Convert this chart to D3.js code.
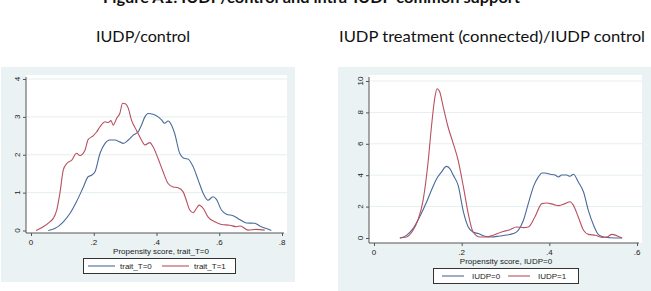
<!DOCTYPE html>
<html>
<head>
<meta charset="utf-8">
<script src="https://cdn.jsdelivr.net/npm/d3@7"></script>
<style>
  html, body { margin: 0; padding: 0; background: #fff; }
  svg { display: block; }
  .tick-lbl { font-family: "Liberation Sans", Arial, sans-serif; font-size: 8px; fill: #222; }
  .head { font-family: Lato, "Open Sans", sans-serif; fill: #111; }
</style>
</head>
<body>
<div id="chart"></div>
<script>
// ---- data ----
// left panel: propensity score densities, trait_T
const leftT0 = [
  [0.055,0],[0.076,0.05],[0.103,0.23],[0.124,0.45],[0.145,0.76],[0.167,1.15],[0.182,1.42],
  [0.193,1.46],[0.204,1.55],[0.22,2.04],[0.236,2.3],[0.251,2.39],[0.267,2.39],[0.283,2.34],
  [0.294,2.3],[0.31,2.39],[0.326,2.52],[0.342,2.61],[0.352,2.78],[0.363,3.0],[0.373,3.09],
  [0.389,3.07],[0.405,3.0],[0.416,2.92],[0.426,2.83],[0.437,2.89],[0.448,2.78],[0.458,2.56],
  [0.474,2.04],[0.49,1.9],[0.5,1.89],[0.517,1.68],[0.533,1.33],[0.549,0.98],[0.564,0.8],
  [0.58,0.89],[0.591,0.82],[0.607,0.54],[0.623,0.43],[0.644,0.39],[0.665,0.29],[0.686,0.2],
  [0.713,0.19],[0.729,0.12],[0.75,0.05],[0.766,0]
];
const leftT1 = [
  [0.016,0],[0.039,0.1],[0.06,0.23],[0.071,0.32],[0.082,0.54],[0.092,0.98],[0.103,1.6],
  [0.114,1.77],[0.13,1.86],[0.145,2.04],[0.156,1.98],[0.172,2.12],[0.182,2.4],[0.198,2.5],
  [0.209,2.6],[0.22,2.74],[0.236,2.87],[0.246,2.85],[0.255,2.9],[0.262,2.78],[0.273,2.96],
  [0.283,3.09],[0.292,3.36],[0.302,3.34],[0.31,3.23],[0.32,2.92],[0.336,2.65],[0.352,2.39],
  [0.363,2.26],[0.379,2.32],[0.389,2.21],[0.405,1.9],[0.421,1.55],[0.437,1.24],[0.453,1.15],
  [0.469,1.13],[0.485,1.02],[0.495,0.8],[0.506,0.54],[0.517,0.47],[0.527,0.58],[0.536,0.67],
  [0.549,0.58],[0.564,0.36],[0.586,0.23],[0.607,0.16],[0.633,0.14],[0.655,0.1],[0.667,0.12],
  [0.692,0.01],[0.718,0.03],[0.745,0.01]
];
// right panel: IUDP
const rightI0 = [
  [0.059,0],[0.074,0.17],[0.089,0.6],[0.104,1.34],[0.12,2.29],[0.131,3.04],[0.143,3.78],
  [0.154,4.2],[0.165,4.56],[0.173,4.42],[0.181,3.99],[0.192,3.35],[0.204,1.66],[0.215,0.7],
  [0.226,0.38],[0.238,0.28],[0.253,0.11],[0.268,0.06],[0.287,0.13],[0.303,0.19],[0.318,0.28],
  [0.329,0.49],[0.341,1.13],[0.352,2.19],[0.364,3.29],[0.375,3.89],[0.383,4.14],[0.39,4.14],
  [0.402,4.06],[0.413,4.01],[0.421,3.89],[0.428,4.01],[0.44,4.01],[0.447,3.93],[0.455,4.06],
  [0.466,3.57],[0.478,2.93],[0.489,1.76],[0.501,0.81],[0.512,0.21],[0.524,0.06],[0.539,0.02],
  [0.558,0],[0.566,0]
];
const rightI1 = [
  [0.059,0],[0.074,0.06],[0.089,0.49],[0.1,1.13],[0.112,2.4],[0.123,4.73],[0.131,7.07],
  [0.139,8.98],[0.144,9.51],[0.15,9.3],[0.158,8.34],[0.169,7.07],[0.181,6.0],[0.192,4.95],
  [0.204,3.25],[0.215,1.55],[0.226,0.38],[0.242,0.06],[0.257,0.06],[0.272,0.17],[0.291,0.38],
  [0.31,0.53],[0.325,0.7],[0.341,0.66],[0.352,0.7],[0.367,1.34],[0.383,2.19],[0.394,2.23],
  [0.409,2.14],[0.421,2.06],[0.436,2.19],[0.447,2.31],[0.455,2.08],[0.466,1.34],[0.478,0.49],
  [0.489,0.23],[0.505,0.17],[0.52,0.04],[0.531,0.06],[0.543,0.23],[0.554,0.15],[0.566,0]
];

const leftXTicks = [0, 0.2, 0.4, 0.6, 0.8];
const leftYTicks = [0, 1, 2, 3, 4];
const rightXTicks = [0, 0.2, 0.4, 0.6];
const rightYTicks = [0, 2, 4, 6, 8, 10];

const leftLegend = ["trait_T=0", "trait_T=1"];
const rightLegend = ["IUDP=0", "IUDP=1"];

const figTitle = "Figure A1: IUDP/control and intra-IUDP common support";
const leftHead = "IUDP/control";
const rightHead = "IUDP treatment (connected)/IUDP control";

// ---- style ----
const W = 651, H = 291;
const BLUE = "#4a6a99", RED = "#b9505f";
const PANEL_BG = "#eaf2f3", GRID = "#e6eef0", AXIS = "#555";

const fmt = d => d === 0 ? "0" : String(d).replace(/^0\./, ".");

const svg = d3.select("#chart").append("svg")
  .attr("width", W).attr("height", H);

// headings
svg.append("text").attr("class", "head")
  .attr("x", 103).attr("y", 3)
  .attr("font-size", 16).attr("font-weight", 700)
  .attr("textLength", 417).attr("lengthAdjust", "spacingAndGlyphs")
  .text(figTitle);
svg.append("text").attr("class", "head")
  .attr("x", 96).attr("y", 42).attr("font-size", 16)
  .attr("textLength", 94).attr("lengthAdjust", "spacingAndGlyphs")
  .text(leftHead);
svg.append("text").attr("class", "head")
  .attr("x", 339).attr("y", 42).attr("font-size", 16)
  .attr("textLength", 306).attr("lengthAdjust", "spacingAndGlyphs")
  .text(rightHead);

function panel(cfg) {
  const g = svg.append("g");
  // graph region
  g.append("rect")
    .attr("x", cfg.outer[0]).attr("y", cfg.outer[1])
    .attr("width", cfg.outer[2] - cfg.outer[0]).attr("height", cfg.outer[3] - cfg.outer[1])
    .attr("fill", PANEL_BG);
  // plot region
  g.append("rect")
    .attr("x", cfg.plot[0]).attr("y", cfg.plot[1])
    .attr("width", cfg.plot[2] - cfg.plot[0]).attr("height", cfg.plot[3] - cfg.plot[1])
    .attr("fill", "#fff");

  const x = d3.scaleLinear().domain(cfg.xDomain).range(cfg.xRange);
  const y = d3.scaleLinear().domain(cfg.yDomain).range(cfg.yRange);

  // gridlines
  g.selectAll(null).data(cfg.yTicks.slice(1)).join("line")
    .attr("x1", cfg.plot[0] + 1).attr("x2", cfg.plot[2])
    .attr("y1", d => y(d)).attr("y2", d => y(d))
    .attr("stroke", GRID).attr("stroke-width", 1);

  // y axis
  const yAx = g.append("g").attr("transform", `translate(${cfg.plot[0]},0)`)
    .call(d3.axisLeft(y).tickValues(cfg.yTicks).tickSize(3).tickFormat(""));
  yAx.select(".domain").attr("d", `M0,${cfg.plot[1] + 2}V${cfg.plot[3]}`);
  yAx.selectAll("path, line").attr("stroke", AXIS);
  g.selectAll(null).data(cfg.yTicks).join("text")
    .attr("class", "tick-lbl")
    .attr("text-anchor", "middle")
    .attr("transform", d => `translate(${cfg.plot[0] - 6},${y(d)}) rotate(-90)`)
    .text(fmt);

  // x axis
  const xAx = g.append("g").attr("transform", `translate(0,${cfg.plot[3]})`)
    .call(d3.axisBottom(x).tickValues(cfg.xTicks).tickSize(3).tickFormat(""));
  xAx.select(".domain").attr("d", `M${cfg.plot[0]},0H${cfg.xRange[1] + 2}`);
  xAx.selectAll("path, line").attr("stroke", AXIS);
  g.selectAll(null).data(cfg.xTicks).join("text")
    .attr("class", "tick-lbl")
    .attr("text-anchor", "middle")
    .attr("x", d => x(d)).attr("y", cfg.plot[3] + 12)
    .text(fmt);

  g.append("text").attr("class", "tick-lbl")
    .attr("text-anchor", "middle")
    .attr("x", cfg.xLabelX).attr("y", cfg.plot[3] + 21)
    .text(cfg.xLabel);

  // density lines
  const line = d3.line().x(d => x(d[0])).y(d => y(d[1])).curve(d3.curveMonotoneX);
  [cfg.s0, cfg.s1].forEach((s, i) => {
    g.append("path").datum(s)
      .attr("d", line).attr("fill", "none")
      .attr("stroke", i === 0 ? BLUE : RED).attr("stroke-width", 1.1);
  });

  // legend
  const L = cfg.legend;
  g.append("rect")
    .attr("x", L.x + 0.5).attr("y", L.y + 0.5).attr("width", L.w).attr("height", L.h)
    .attr("fill", "#fff").attr("stroke", "#333").attr("stroke-width", 1);
  cfg.legendLabels.forEach((lab, i) => {
    const ox = L.x + L.items[i];
    g.append("line")
      .attr("x1", ox).attr("x2", ox + L.lineW)
      .attr("y1", L.y + L.h / 2 + 0.5).attr("y2", L.y + L.h / 2 + 0.5)
      .attr("stroke", i === 0 ? BLUE : RED).attr("stroke-width", 1.1);
    g.append("text").attr("class", "tick-lbl")
      .attr("x", ox + L.lineW + L.gap).attr("y", L.y + L.h / 2 + 3.5)
      .text(lab);
  });
}

panel({
  outer: [1, 67, 295, 282],
  plot: [26, 75, 287, 233],
  xDomain: [0, 0.8], xRange: [31, 282],
  yDomain: [0, 4], yRange: [230.5, 79],
  xTicks: leftXTicks, yTicks: leftYTicks,
  xLabel: "Propensity score, trait_T=0", xLabelX: 161,
  s0: leftT0, s1: leftT1,
  legendLabels: leftLegend,
  legend: { x: 83, y: 258, w: 152, h: 15, items: [5, 79], lineW: 27, gap: 5 }
});

panel({
  outer: [338, 67, 651, 291],
  plot: [369, 75, 642, 243],
  xDomain: [0, 0.6], xRange: [374, 637],
  yDomain: [0, 10], yRange: [238, 81],
  xTicks: rightXTicks, yTicks: rightYTicks,
  xLabel: "Propensity score, IUDP=0", xLabelX: 506,
  s0: rightI0, s1: rightI1,
  legendLabels: rightLegend,
  legend: { x: 433, y: 268, w: 145, h: 15, items: [9, 75], lineW: 22, gap: 8 }
});
</script>
</body>
</html>
